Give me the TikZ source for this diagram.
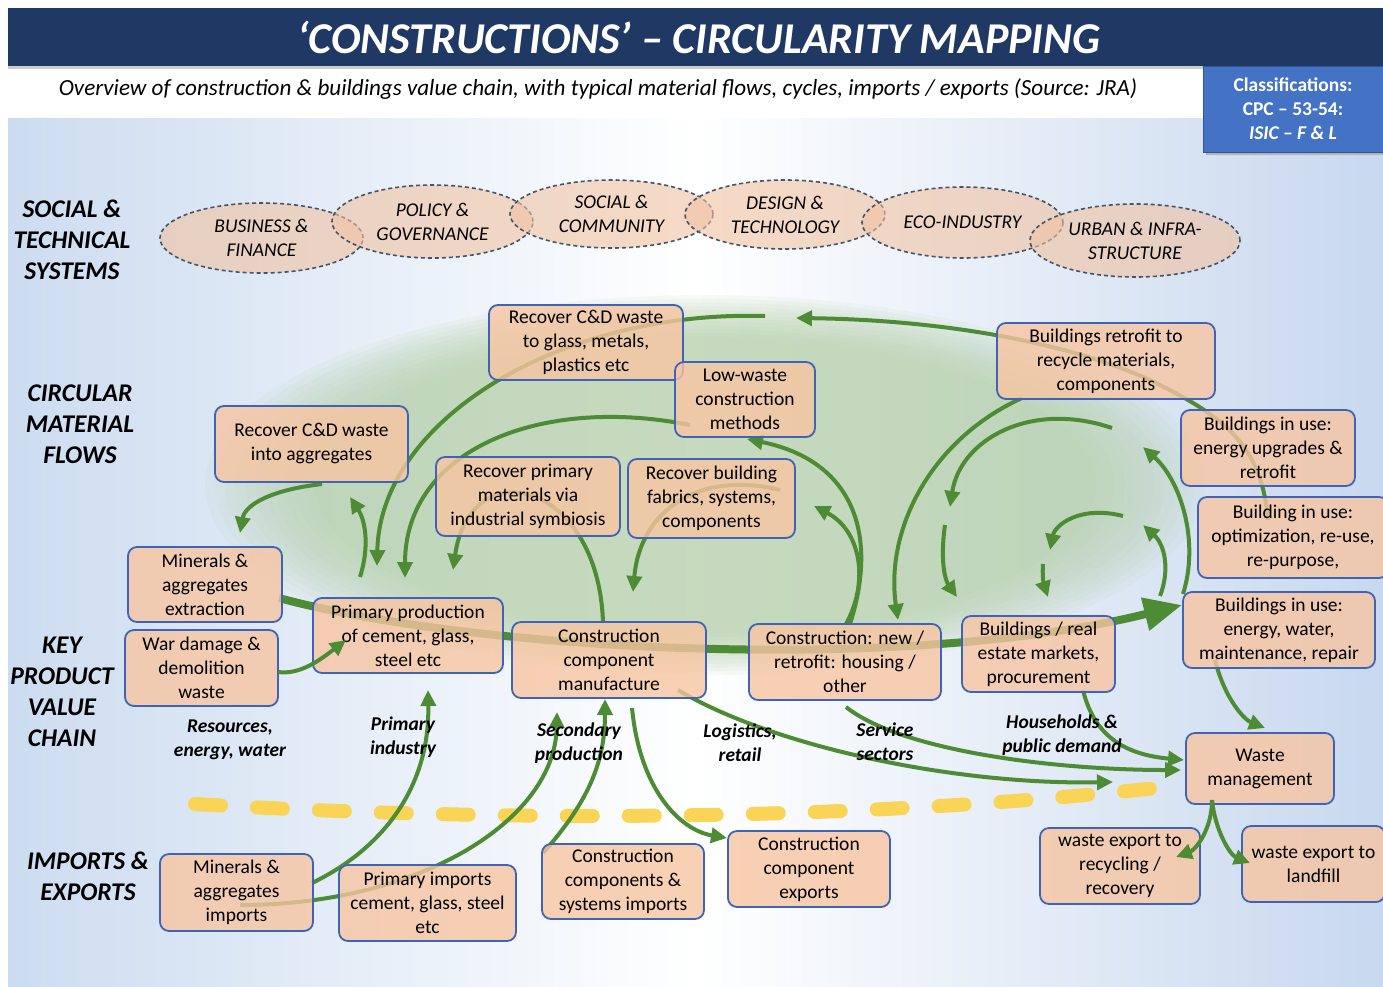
\documentclass[tikz,border=0pt]{standalone}
\usepackage{fontspec}
\setmainfont{Carlito}
\usetikzlibrary{arrows.meta,shapes.geometric}
\definecolor{navy}{HTML}{203864}
\definecolor{classblue}{HTML}{4472C4}
\definecolor{boxfill}{HTML}{F7C5A2}
\definecolor{boxline}{HTML}{3F63B5}
\definecolor{ellfill}{HTML}{F0C2A2}
\definecolor{ellline}{HTML}{44546A}
\definecolor{flowgreen}{HTML}{4E8B35}
\definecolor{blobgreen}{HTML}{B6D1AA}
\definecolor{dashyellow}{HTML}{F9D457}
\definecolor{bgleft}{HTML}{CCDCF0}
\definecolor{bgright}{HTML}{C8D8EE}
\pgfdeclarelayer{bglayer}
\pgfdeclarelayer{arrlayer}
\pgfsetlayers{bglayer,arrlayer,main}
\begin{document}
\begin{tikzpicture}[x=1pt,y=-1pt,
  box/.style={draw=boxline, line width=1.8pt, fill=boxfill, fill opacity=0.8, text opacity=1, rounded corners=9pt, align=center, inner sep=0pt, font=\fontsize{19.5}{24}\selectfont},
  ell/.style={ellipse, draw=ellline, dash pattern=on 4pt off 3pt, line width=1.6pt, fill=ellfill, fill opacity=0.6, text opacity=1, align=center, inner sep=0pt, font=\itshape\fontsize{19.5}{24}\selectfont},
  flow/.style={draw=flowgreen, line width=4pt, -{Triangle[length=16pt,width=15pt]}},
  chain/.style={draw=flowgreen, line width=8pt, -{Triangle[length=38pt,width=32pt]}},
  sect/.style={font=\bfseries\itshape\fontsize{25.5}{31}\selectfont, align=center, inner sep=0pt},
  clab/.style={font=\bfseries\itshape\fontsize{19.5}{24}\selectfont, align=center, inner sep=0pt}
]
\useasboundingbox (0,0) rectangle (1383,986);
\begin{pgfonlayer}{bglayer}
  \fill[white] (0,0) rectangle (1383,986);
  \shade[left color=bgleft, right color=bgright, middle color=white] (8,118) rectangle (1383,986);
  \fill[black!20] (8,66) rectangle (1383,69);
  \fill[navy] (8,8) rectangle (1383,66);
  \foreach \s in {1.0,0.98,...,0.76} {
    \fill[blobgreen, opacity=0.1] (705,485) ellipse [x radius={\s*500pt}, y radius={\s*190pt}];
  }
  \draw[dashyellow, line width=14pt, line cap=round, dash pattern=on 26pt off 36pt] (195,804) .. controls (500,822) and (850,822) .. (1165,787);
\end{pgfonlayer}

% title and header
\node[font=\bfseries\itshape\fontsize{44}{52}\selectfont, text=white, inner sep=0pt] (title) at (699,37) {‘CONSTRUCTIONS’ – CIRCULARITY MAPPING};
\node[font=\itshape\fontsize{23.1}{27}\selectfont, inner sep=0pt] (sub) at (598,89) {Overview of construction \& buildings value chain, with typical material flows, cycles, imports / exports (Source: JRA)};
\fill[black!30] (1206,69) rectangle (1386,155);
\node[fill=classblue, draw=classblue!75!black, line width=1pt, minimum width=180pt, minimum height=86pt, inner sep=0pt, align=center, text=white, font=\bfseries\fontsize{19.5}{24}\selectfont] (cls) at (1293,109) {Classifications:\\CPC – 53-54:\\\textit{ISIC – F \& L}};

% section labels
\node[sect] (sts) at (72,240) {SOCIAL \&\\TECHNICAL\\SYSTEMS};
\node[sect] (cmf) at (80,424) {CIRCULAR\\MATERIAL\\FLOWS};
\node[sect] (kpv) at (62,692) {KEY\\PRODUCT\\VALUE\\CHAIN};
\node[sect] (iex) at (88,876.5) {IMPORTS \&\\EXPORTS};

% systems ellipses
\node[ell, minimum width=203pt, minimum height=70pt] (e1) at (261.5,238) {BUSINESS \&\\FINANCE};
\node[ell, minimum width=201pt, minimum height=73pt] (e2) at (432.5,221.5) {POLICY \&\\GOVERNANCE};
\node[ell, minimum width=203pt, minimum height=68pt] (e3) at (611.5,214) {SOCIAL \&\\COMMUNITY};
\node[ell, minimum width=200pt, minimum height=69pt] (e4) at (785,214.5) {DESIGN \&\\TECHNOLOGY};
\node[ell, minimum width=201pt, minimum height=71pt] (e5) at (962.5,222.5) {ECO-INDUSTRY};
\node[ell, minimum width=210pt, minimum height=73pt] (e6) at (1135,240.5) {URBAN \& INFRA-\\STRUCTURE};

% chain labels
\node[clab] (lres) at (230,740) {Resources,\\energy, water};
\node[clab] (lpri) at (403,737) {Primary\\industry};
\node[clab] (lsec) at (579,743) {Secondary\\production};
\node[clab] (llog) at (740,743) {Logistics,\\retail};
\node[clab] (lser) at (885,742) {Service\\sectors};
\node[clab] (lhh) at (1062,735) {Households \&\\public demand};

% boxes
\node[box, minimum width=194pt, minimum height=75pt] (rc1) at (586,342.5) {Recover C\&D waste\\to glass, metals,\\plastics etc};
\node[box, minimum width=140pt, minimum height=75pt] (lw) at (745,399.5) {Low-waste\\construction\\methods};
\node[box, minimum width=193pt, minimum height=76pt] (ragg) at (311.5,444) {Recover C\&D waste\\into aggregates};
\node[box, minimum width=184pt, minimum height=79pt] (rpm) at (528,496.5) {Recover primary\\materials via\\industrial symbiosis};
\node[box, minimum width=167pt, minimum height=79pt] (rbf) at (711.5,498.5) {Recover building\\fabrics, systems,\\components};
\node[box, minimum width=218pt, minimum height=76pt] (brf) at (1106,361) {Buildings retrofit to\\recycle materials,\\components};
\node[box, minimum width=174pt, minimum height=76pt] (bue) at (1268,448) {Buildings in use:\\energy upgrades \&\\retrofit};
\node[box, minimum width=190pt, minimum height=81pt] (buo) at (1293,537.5) {Building in use:\\optimization, re-use,\\re-purpose,};
\node[box, minimum width=192pt, minimum height=76pt] (buw) at (1279,630) {Buildings in use:\\energy, water,\\maintenance, repair};
\node[box, minimum width=154pt, minimum height=75pt] (mae) at (205,584.5) {Minerals \&\\aggregates\\extraction};
\node[box, minimum width=153pt, minimum height=76pt] (wdd) at (201.5,668) {War damage \&\\demolition\\waste};
\node[box, minimum width=190pt, minimum height=75pt] (pp) at (408,635.5) {Primary production\\of cement, glass,\\steel etc};
\node[box, minimum width=194pt, minimum height=76pt] (ccm) at (609,660) {Construction\\component\\manufacture};
\node[box, minimum width=192pt, minimum height=76pt] (cn) at (845,662) {Construction: new /\\retrofit: housing /\\other};
\node[box, minimum width=153pt, minimum height=76pt] (bre) at (1038.5,654) {Buildings / real\\estate markets,\\procurement};
\node[box, minimum width=148pt, minimum height=71pt] (wm) at (1260,768.5) {Waste\\management};
\node[box, minimum width=153pt, minimum height=77pt] (mai) at (236.5,892.5) {Minerals \&\\aggregates\\imports};
\node[box, minimum width=177pt, minimum height=76pt] (pi) at (427.5,903) {Primary imports\\cement, glass, steel\\etc};
\node[box, minimum width=162pt, minimum height=75pt] (cci) at (623,881.5) {Construction\\components \&\\systems imports};
\node[box, minimum width=162pt, minimum height=76pt] (cce) at (809,869) {Construction\\component\\exports};
\node[box, minimum width=160pt, minimum height=76pt] (wer) at (1120,866) {waste export to\\recycling /\\recovery};
\node[box, minimum width=143pt, minimum height=76pt] (wel) at (1313.5,864) {waste export to\\landfill};

% free ends of connectors
\coordinate (ch0) at (279,598);   \coordinate (ch1) at (1182,605);
\coordinate (a3s) at (322,484);   \coordinate (a3e) at (240,533);
\coordinate (a4s) at (360,577);   \coordinate (a4e) at (350,497);
\coordinate (a5s) at (765,316);   \coordinate (a5e) at (377,566);
\coordinate (a6s) at (1268,520);  \coordinate (a6m) at (1160,385); \coordinate (a6e) at (796,318);
\coordinate (a7s) at (690,425);   \coordinate (a7e) at (405,578);
\coordinate (a8s) at (603,622);   \coordinate (a8e) at (453,570);
\coordinate (a9s) at (780,490);   \coordinate (a9e) at (633,592);
\coordinate (a10s) at (850,624);  \coordinate (a10e) at (747,439);
\coordinate (a11s) at (846,624);  \coordinate (a11e) at (814,506);
\coordinate (a12s) at (1022,398); \coordinate (a12e) at (898,620);
\coordinate (a13s) at (1112,428); \coordinate (a13e) at (950,507);
\coordinate (a14s) at (945,525);  \coordinate (a14e) at (957,597);
\coordinate (a15s) at (1183,594); \coordinate (a15e) at (1143,447);
\coordinate (a16s) at (1123,516); \coordinate (a16e) at (1050,550);
\coordinate (a17s) at (1043,564); \coordinate (a17e) at (1048,597);
\coordinate (a18s) at (1160,596); \coordinate (a18e) at (1143,525);
\coordinate (a19s) at (1083,690); \coordinate (a19e) at (1184,760);
\coordinate (a20s) at (846,707);  \coordinate (a20e) at (1181,770);
\coordinate (a21s) at (678,690);  \coordinate (a21e) at (1113,782);
\coordinate (a22s) at (1215,660); \coordinate (a22e) at (1265,728);
\coordinate (a23s) at (1212,800); \coordinate (a23e) at (1176,857);
\coordinate (a24e) at (1250,863);
\coordinate (a25s) at (632,708);  \coordinate (a25e) at (727,838);
\coordinate (a26s) at (312,883);  \coordinate (a26e) at (428,690);
\coordinate (a27s) at (240,905);  \coordinate (a27e) at (557,712);
\coordinate (a28s) at (543,853);  \coordinate (a28e) at (605,699);
\coordinate (a2s) at (278,672);   \coordinate (a2e) at (346,640);

\begin{pgfonlayer}{arrlayer}
  \draw[chain] (ch0) .. controls (470,650) and (900,675) .. (ch1);
  \draw[flow] (a3s) .. controls (270,490) and (245,505) .. (a3e);
  \draw[flow] (a4s) .. controls (370,545) and (365,520) .. (a4e);
  \draw[flow] (a5s) .. controls (560,310) and (380,420) .. (a5e);
  \draw[flow] (a6s) .. controls (1262,450) and (1230,420) .. (a6m) .. controls (1080,345) and (950,320) .. (a6e);
  \draw[flow] (a7s) .. controls (540,395) and (405,450) .. (a7e);
  \draw[flow] (a8s) .. controls (598,480) and (470,450) .. (a8e);
  \draw[flow] (a9s) .. controls (700,470) and (640,510) .. (a9e);
  \draw[flow] (a10s) .. controls (880,530) and (850,460) .. (a10e);
  \draw[flow] (a11s) .. controls (870,580) and (860,530) .. (a11e);
  \draw[flow] (a12s) .. controls (930,440) and (885,530) .. (a12e);
  \draw[flow] (a13s) .. controls (1030,400) and (960,440) .. (a13e);
  \draw[flow] (a14s) .. controls (940,560) and (945,580) .. (a14e);
  \draw[flow] (a15s) .. controls (1200,540) and (1180,480) .. (a15e);
  \draw[flow] (a16s) .. controls (1080,505) and (1055,525) .. (a16e);
  \draw[flow] (a17s) .. controls (1042,575) and (1044,585) .. (a17e);
  \draw[flow] (a18s) .. controls (1170,570) and (1165,545) .. (a18e);
  \draw[flow] (a19s) .. controls (1095,740) and (1130,755) .. (a19e);
  \draw[flow] (a20s) .. controls (900,750) and (1050,770) .. (a20e);
  \draw[flow] (a21s) .. controls (770,745) and (950,785) .. (a21e);
  \draw[flow] (a22s) .. controls (1225,700) and (1245,720) .. (a22e);
  \draw[flow] (a25s) .. controls (640,790) and (680,830) .. (a25e);
  \draw[flow] (a26s) .. controls (380,850) and (430,790) .. (a26e);
  \draw[flow] (a27s) .. controls (420,905) and (555,820) .. (a27e);
  \draw[flow] (a28s) .. controls (590,800) and (605,760) .. (a28e);
\end{pgfonlayer}
\draw[flow] (a2s) .. controls (300,675) and (320,660) .. (a2e);
\draw[flow] (a23s) .. controls (1212,830) and (1195,850) .. (a23e);
\draw[flow] (a23s) .. controls (1215,830) and (1230,855) .. (a24e);
\end{tikzpicture}
\end{document}
